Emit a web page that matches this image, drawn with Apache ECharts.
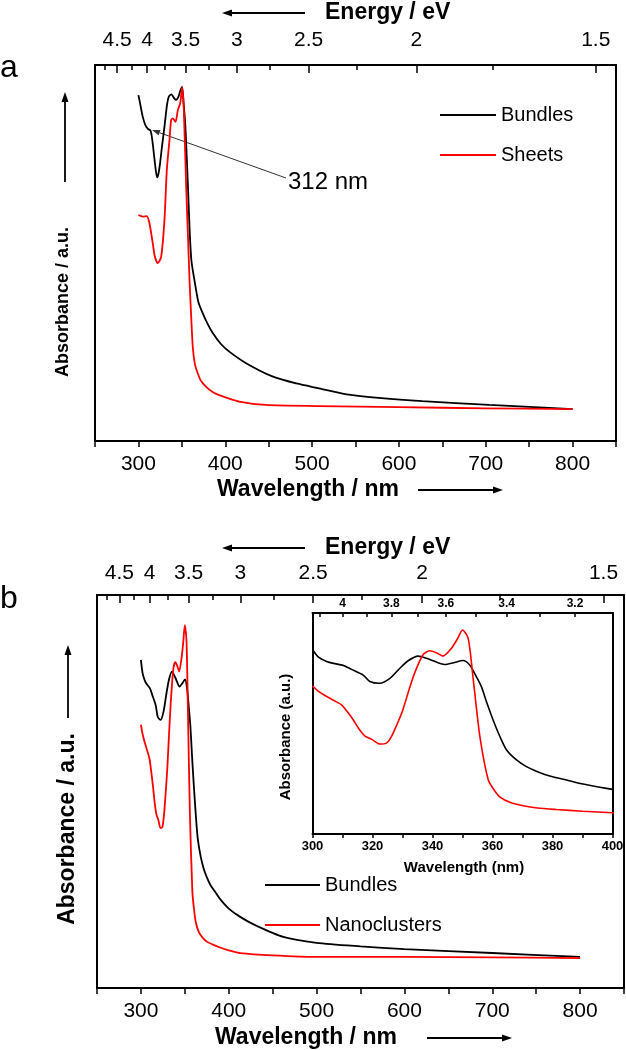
<!DOCTYPE html>
<html><head><meta charset="utf-8">
<script src="https://cdn.jsdelivr.net/npm/echarts@6/dist/echarts.min.js"></script>
<style>html,body{margin:0;padding:0;background:#fff}#c{width:626px;height:1050px}</style>
</head><body><div id="c"></div>
<script>
const FONT = '"Liberation Sans", Arial, sans-serif';

// ---- Panel a data (wavelength nm, normalized absorbance) ----
const aBundlesX = [300,303,305,308,311,314,316,318,320,321.5,323,325,327,330,333,335,338,341,343.4,346,348,350.3,352,354,355,357,359,361,364.5,369,374,380,385.6,395,405,424,455,482,508,540,580,627,704,750,800];
const aBundlesY = [0.920,0.885,0.862,0.840,0.830,0.825,0.800,0.760,0.720,0.701,0.710,0.740,0.780,0.836,0.895,0.916,0.922,0.912,0.907,0.915,0.930,0.942,0.900,0.840,0.790,0.680,0.560,0.480,0.428,0.370,0.340,0.310,0.287,0.258,0.237,0.207,0.171,0.153,0.140,0.124,0.114,0.106,0.096,0.091,0.085];
const aSheetsX = [300,305,309.6,312.7,316.5,319,322.3,326.2,330,332.7,335.8,337.7,339.6,342.7,345.4,348.1,350.4,352.3,355,357,359,361,362.6,365,368.3,372,378,385,393,416,447,508,600,700,800];
const aSheetsY = [0.601,0.597,0.598,0.579,0.526,0.490,0.473,0.490,0.588,0.721,0.801,0.854,0.858,0.849,0.880,0.898,0.940,0.880,0.676,0.550,0.420,0.320,0.250,0.205,0.180,0.160,0.144,0.131,0.122,0.105,0.096,0.093,0.090,0.087,0.085];

// ---- Panel b data (also shown in the inset) ----
const bBundlesX = [300,302,304.7,307,310.2,313,316.9,319.1,322.4,325.8,329.1,332,335.2,339.1,344.1,347,350.2,352.4,354.3,356.3,358.2,360.2,362.5,364.7,368,371.3,375,379.1,385,390.2,400,413,430,462,500,550,600,700,800];
const bBundlesY = [0.835,0.800,0.781,0.772,0.763,0.745,0.719,0.690,0.682,0.704,0.750,0.785,0.805,0.790,0.767,0.775,0.785,0.765,0.720,0.667,0.590,0.516,0.440,0.380,0.335,0.305,0.282,0.262,0.243,0.226,0.202,0.181,0.160,0.130,0.115,0.106,0.099,0.089,0.079];
const bNanoX = [300,302,304.7,307,309.7,311.5,313.6,315.5,317.5,319.8,322.4,324.5,326.3,328.3,330.1,332,334,336.8,339.1,341.3,343.5,346.3,348.2,350,351.9,353.6,355.8,358.6,360.5,362.4,366,370.2,375,381.3,390,400,413,450,500,600,700,800];
const bNanoY = [0.670,0.645,0.622,0.605,0.584,0.555,0.516,0.475,0.443,0.428,0.407,0.410,0.441,0.500,0.561,0.645,0.727,0.810,0.829,0.820,0.805,0.840,0.880,0.923,0.885,0.697,0.441,0.244,0.200,0.168,0.142,0.128,0.118,0.111,0.103,0.096,0.089,0.083,0.079,0.079,0.078,0.076];

// ---- tick labels ----
const mainEnergyLabels = [4.5,4,3.5,3,2.5,2,1.5];
const mainEnergyTicks = [4.75,4.5,4.25,4,3.75,3.5,3.25,3,2.75,2.5,2.25,2,1.75,1.5];
const insetEnergyLabels = [4,3.8,3.6,3.4,3.2];
const insetEnergyTicks = [4.1,4,3.9,3.8,3.7,3.6,3.5,3.4,3.3,3.2,3.1];
const mainWaveLabels = [300,400,500,600,700,800];
const insetWaveLabels = [300,320,340,360,380,400];

const HC = 1240; // eV*nm
const toNm = e => HC / e;
const pairs = (xs, ys) => xs.map((x, i) => [x, ys[i]]);
const BLACK = '#000', RED = '#ff0000';
const AX = {color: BLACK, width: 2};

function bottomAxis(g, min, max, interval, labels, fs, bold, margin, tlen) {
  return {type:'value', gridIndex:g, position:'bottom', min, max, interval,
    axisLine:{show:true, onZero:false, lineStyle:AX},
    axisTick:{show:true, inside:false, length:tlen, lineStyle:{color:BLACK, width:1.5}},
    axisLabel:{show:true, margin, fontSize:fs, fontWeight:bold?'bold':'normal', fontFamily:FONT, color:BLACK,
      showMinLabel:true, showMaxLabel:true,
      formatter: v => labels.indexOf(Math.round(v)) >= 0 && Math.abs(v-Math.round(v))<1e-6 ? String(Math.round(v)) : ''},
    splitLine:{show:false}};
}
function topAxis(g, min, max, labels, ticks, fs, bold, margin, tlen, showLine) {
  return {type:'value', gridIndex:g, position:'top', min, max, offset:0,
    axisLine:{show:showLine, onZero:false, lineStyle:AX},
    axisTick:{show:true, inside:true, length:tlen, customValues: ticks.map(toNm), lineStyle:{color:BLACK, width:1.5}},
    axisLabel:{show: labels.length>0, margin, fontSize:fs, fontWeight:bold?'bold':'normal', fontFamily:FONT, color:BLACK,
      customValues: labels.map(toNm), formatter: v => String(+(HC/v).toFixed(2))},
    splitLine:{show:false}};
}
function yAx(g, pos) {
  return {type:'value', gridIndex:g, position:pos, min:0, max:1, offset:0,
    axisLine:{show:true, onZero:false, lineStyle:AX}, axisTick:{show:false}, axisLabel:{show:false}, splitLine:{show:false}};
}
function line(name, xi, yi, xs, ys, color, w) {
  return {type:'line', name, xAxisIndex:xi, yAxisIndex:yi, data:pairs(xs, ys), showSymbol:false, symbol:'none',
    smooth:0.25, clip:true, lineStyle:{color, width:w}, itemStyle:{color}, emphasis:{disabled:true}};
}
function txt(x, y, s, size, bold, align) {
  return {type:'text', x, y, style:{text:s, font:(bold?'bold ':'')+size+'px '+FONT, fill:BLACK, align:align||'left', verticalAlign:'middle'}};
}
function rtxt(x, y, s, size) {
  return {type:'text', x, y, rotation:Math.PI/2, style:{text:s, font:'bold '+size+'px '+FONT, fill:BLACK, align:'center', verticalAlign:'middle'}};
}
function arrow(x1, y1, x2, y2, head, w, color) {
  const dx = x2-x1, dy = y2-y1, L = Math.hypot(dx, dy), ux = dx/L, uy = dy/L;
  const bx = x2-ux*head, by = y2-uy*head, px = -uy*head*0.35, py = ux*head*0.35;
  return [
    {type:'line', shape:{x1, y1, x2:bx, y2:by}, style:{stroke:color||BLACK, lineWidth:w}},
    {type:'polygon', shape:{points:[[x2,y2],[bx+px,by+py],[bx-px,by-py]]}, style:{fill:color||BLACK}}
  ];
}

const option = {
  animation:false,
  backgroundColor:'#fff',
  grid:[
    {left:95, top:65, width:521, height:376, containLabel:false, outerBoundsMode:'none'},
    {left:97, top:595, width:527, height:393, containLabel:false, outerBoundsMode:'none'},
    {left:312.5, top:613, width:300, height:221, containLabel:false, outerBoundsMode:'none'}
  ],
  xAxis:[
    bottomAxis(0, 250, 850, 50, mainWaveLabels, 21, false, 13, 6),
    topAxis(0, 250, 850, mainEnergyLabels, mainEnergyLabels, 21, false, 14, 8, true),
    topAxis(0, 250, 850, [], mainEnergyTicks, 21, false, 14, 5, false),
    bottomAxis(1, 250, 850, 50, mainWaveLabels, 21, false, 13, 6),
    topAxis(1, 250, 850, mainEnergyLabels, mainEnergyLabels, 21, false, 11, 8, true),
    topAxis(1, 250, 850, [], mainEnergyTicks, 21, false, 11, 5, false),
    bottomAxis(2, 300, 400, 10, insetWaveLabels, 13, true, 6, 4),
    topAxis(2, 300, 400, insetEnergyLabels, insetEnergyTicks, 12, true, 3, 4, true)
  ],
  yAxis:[yAx(0,'left'), yAx(0,'right'), yAx(1,'left'), yAx(1,'right'), yAx(2,'left'), yAx(2,'right')],
  legend:[
    {data:['Bundles','Sheets'], left:435, top:100, orient:'vertical', icon:'rect', itemWidth:56, itemHeight:2, itemGap:20,
     selectedMode:false, textStyle:{fontSize:20, fontFamily:FONT, color:BLACK}},
    {data:['Bundles','Nanoclusters'], left:260, top:870, orient:'vertical', icon:'rect', itemWidth:55, itemHeight:2, itemGap:20,
     selectedMode:false, textStyle:{fontSize:20, fontFamily:FONT, color:BLACK}}
  ],
  series:[
    line('Bundles', 0, 0, aBundlesX, aBundlesY, BLACK, 1.8),
    line('Sheets', 0, 0, aSheetsX, aSheetsY, RED, 1.8),
    line('Bundles', 3, 2, bBundlesX, bBundlesY, BLACK, 1.8),
    line('Nanoclusters', 3, 2, bNanoX, bNanoY, RED, 1.8),
    line('Bundles', 6, 4, bBundlesX, bBundlesY, BLACK, 1.6),
    line('Nanoclusters', 6, 4, bNanoX, bNanoY, RED, 1.6)
  ],
  graphic:{elements:[].concat(
    [txt(0, 68, 'a', 32, false), txt(0, 599, 'b', 32, false)],
    [txt(325, 13, 'Energy / eV', 23, true)], arrow(305, 13, 222, 13, 10, 1.8),
    [txt(217, 490, 'Wavelength / nm', 23, true)], arrow(418, 490, 503, 490, 10, 1.8),
    [rtxt(63, 302, 'Absorbance / a.u.', 18)], arrow(65, 182, 65, 92, 10, 1.8),
    [txt(288, 182, '312 nm', 24, false)], arrow(286, 178, 152, 130, 8, 1, '#333'),
    [txt(325, 548, 'Energy / eV', 23, true)], arrow(305, 548, 222, 548, 10, 1.8),
    [txt(215, 1038, 'Wavelength / nm', 23, true)], arrow(427, 1038, 512, 1038, 10, 1.8),
    [rtxt(68, 829, 'Absorbance / a.u.', 23)], arrow(68, 718, 68, 645, 10, 1.8),
    [txt(464, 868, 'Wavelength (nm)', 15, true, 'center')],
    [rtxt(286, 737, 'Absorbance (a.u.)', 15)]
  )}
};
const chart = echarts.init(document.getElementById('c'), null, {renderer:'canvas'});
chart.setOption(option);
</script></body></html>
